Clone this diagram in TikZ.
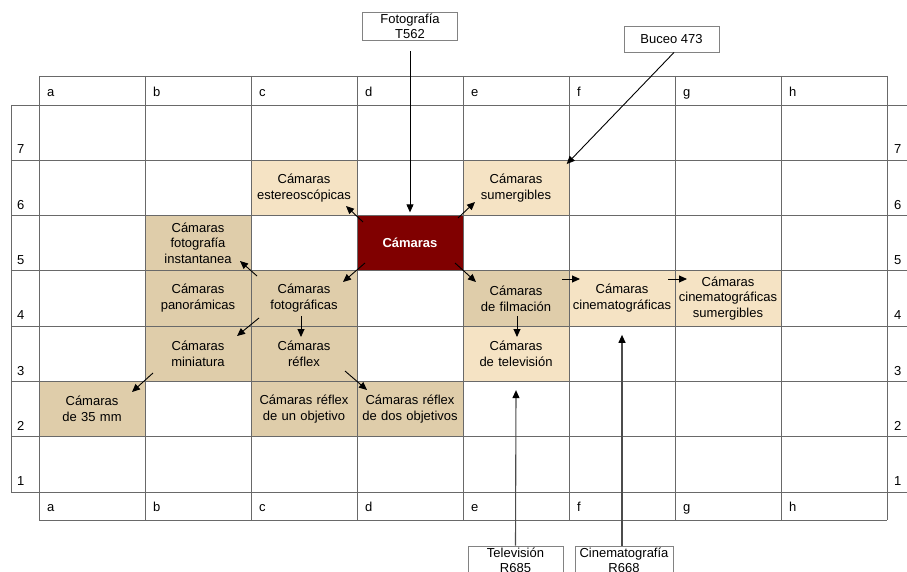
\documentclass[tikz,border=0pt]{standalone}
\usepackage{fontspec}
\setmainfont{Liberation Sans}
\usetikzlibrary{arrows.meta,calc}
\definecolor{darktan}{RGB}{223,205,170}
\definecolor{lighttan}{RGB}{245,227,196}
\definecolor{maroonc}{RGB}{128,0,0}
\definecolor{gridc}{RGB}{105,105,105}
\definecolor{boxc}{RGB}{130,130,130}
\begin{document}
\begin{tikzpicture}[x=1pt,y=-1pt,
  font=\fontsize{13}{15.9}\selectfont,
  cell/.style={minimum width=105pt,minimum height=54.3pt,inner sep=0pt,align=center,text width=104pt},
  dk/.style={cell,fill=darktan},
  lt/.style={cell,fill=lighttan},
  gl/.style={draw=gridc,line width=0.9pt},
  arr/.style={-{Triangle[length=8pt,width=7pt]},line width=0.9pt,draw=black},
  arrlong/.style={-{Triangle[length=8pt,width=7pt,color=black]},line width=1.1pt,draw=black!70},
  lbl/.style={anchor=base west,inner sep=0pt},
  refbox/.style={draw=boxc,line width=0.9pt,align=center,inner sep=0.5pt,minimum width=95pt,minimum height=28pt,font=\fontsize{13}{15}\selectfont},
]
\useasboundingbox (0,0) rectangle (907,572);
\clip (0,0) rectangle (907,572);
\fill[white] (0,0) rectangle (907,572);

% coloured cells
\node[lt] (est) at (304,187.9) {Cámaras\\estereoscópicas};
\node[lt] (sum) at (516,187.9) {Cámaras\\sumergibles};
\node[cell,fill=maroonc,text=white,font=\fontsize{13}{15.7}\selectfont\bfseries] (cam) at (410,243.2) {Cámaras};
\node[dk] (inst) at (198,243.2) {Cámaras\\fotografía\\instantanea};
\node[dk] (pan) at (198,298.5) {Cámaras\\panorámicas};
\node[dk] (fot) at (304,298.5) {Cámaras\\fotográficas};
\node[dk] (fil) at (516,298.5) {Cámaras\\de filmación};
\node[lt] (cin) at (622,298.5) {Cámaras\\cinematográficas};
\node[lt] (cinsum) at (728,298.5) {Cámaras\\cinematográficas\\sumergibles};
\node[dk] (mini) at (198,353.8) {Cámaras\\miniatura};
\node[dk] (ref) at (304,353.8) {\raisebox{-3pt}{\parbox{104pt}{\centering Cámaras\\réflex}}};
\node[lt] (tv) at (516,353.8) {\raisebox{-3pt}{\parbox{104pt}{\centering Cámaras\\de televisión}}};
\node[dk] (m35) at (92,409.1) {Cámaras\\de 35 mm};
\node[dk] (ref1) at (304,409.1) {Cámaras réflex\\de un objetivo};
\node[dk] (ref2) at (410,409.1) {Cámaras réflex\\de dos objetivos};

% grid
\foreach \x in {39,145,...,887} \draw[gl] (\x,76) -- (\x,520);
\draw[gl] (39,76) -- (887,76);
\draw[gl] (39,520) -- (887,520);
\foreach \i in {0,...,7} \draw[gl] (11,{105+55.286*\i}) -- (907,{105+55.286*\i});
\draw[gl] (11,105) -- (11,491.9);

% column letters
\foreach \l [count=\i from 0] in {a,b,c,d,e,f,g,h} {
  \node[lbl] (top\l) at ({47+106*\i},97) {\l};
  \node[lbl] (bot\l) at ({47+106*\i},511) {\l};
}
% row numbers
\foreach \r in {1,...,7} {
  \node[lbl] (left\r) at (17,{105+55.286*(8-\r)-6.4}) {\r};
  \node[lbl] (right\r) at (894,{105+55.286*(8-\r)-6.4}) {\r};
}

% reference boxes
\node[refbox] (foto) at (410,26) {Fotografía\\T562};
\node[refbox,minimum height=26pt] (buceo) at (671.5,39) {Buceo 473};
\node[refbox] (tvb) at (515.5,560) {Televisión\\R685};
\node[refbox,minimum width=98pt] (cinb) at (624,560) {Cinematografía\\R668};

% arrows
\draw[arr] ($(foto.south)+(0,11)$) -- ($(cam.north)+(0,-3.5)$);
\draw[arr] ($(buceo.south)+(2.5,0)$) -- ($(sum.north east)+(-2,3.5)$);
\draw[arr] ($(cam.center)+(-47,-21.2)$) -- ($(est.center)+(42,18.1)$);
\draw[arr] ($(cam.center)+(48,-25.2)$) -- ($(sum.center)+(-41,14.1)$);
\draw[arr] ($(cam.center)+(-45,19.8)$) -- ($(fot.center)+(39,-16.5)$);
\draw[arr] ($(cam.center)+(45,19.8)$) -- ($(fil.center)+(-40,-16.5)$);
\draw[arr] ($(fot.center)+(-47,-22.5)$) -- ($(inst.center)+(42,17.8)$);
\draw[arr] ($(fot.center)+(-45,19.5)$) -- ($(mini.center)+(39,-17.8)$);
\draw[arr] ($(fot.center)+(-3,17.5)$) -- ($(ref.center)+(-3,-16.8)$);
\draw[arr] ($(mini.center)+(-45,19.2)$) -- ($(m35.center)+(40,-17.1)$);
\draw[arr] ($(ref.center)+(41,17.2)$) -- ($(ref2.center)+(-43,-19.1)$);
\draw[arr] ($(fil.center)+(1,17.5)$) -- ($(tv.center)+(1,-16.8)$);
\draw[arr] ($(fil.center)+(46,-19.5)$) -- ($(cin.center)+(-42,-19.5)$);
\draw[arr] ($(cin.center)+(46,-19.5)$) -- ($(cinsum.center)+(-41,-19.5)$);
\draw[arrlong] (tvb.north) -- ($(tv.south)+(0,9)$);
\draw[arrlong] ($(cinb.north)+(-2,0)$) -- ($(cin.south)+(0,9)$);
\end{tikzpicture}
\end{document}
